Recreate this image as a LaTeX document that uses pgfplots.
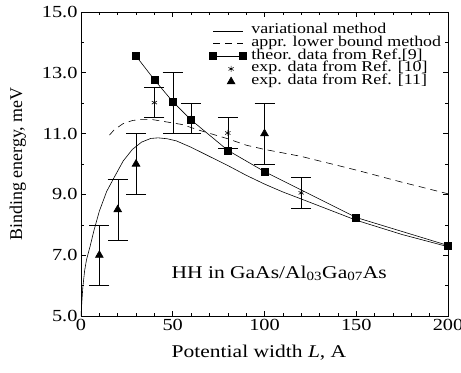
\documentclass[border=0pt]{standalone}
\usepackage{fontspec}
\setmainfont{Liberation Serif}[FakeStretch=1.2]
\newfontfamily\ylabfont{Liberation Serif}
\usepackage{pgfplots}
\pgfplotsset{compat=1.18}
\pgfplotsset{
  lineleg/.style={legend image code/.code={\path (-4bp,0bp) (38bp,0bp);\draw[##1] (0bp,0bp) -- (30bp,0bp);}},
  twomarkleg/.style={legend image code/.code={\path (-4bp,0bp) (38bp,0bp);\draw[##1] plot coordinates {(0bp,0bp) (30bp,0bp)};}},
  markleg/.style={legend image code/.code={\path (-4bp,0bp) (38bp,0bp);\draw[##1] plot coordinates {(18bp,0bp)};}},
}

\pgfplotstableread{
L E
0 5.0
0.5 5.5
1 5.95
2 6.5
3 6.85
5 7.3
7 7.8
10 8.45
14 9.1
18 9.55
23 10.1
28 10.48
33 10.72
38 10.84
42 10.86
47 10.83
52 10.76
60 10.55
70 10.25
80 9.95
90 9.63
100 9.34
110 9.08
120 8.85
135 8.5
150 8.15
175 7.68
200 7.28
}\variational

\pgfplotstableread{
L E
15.5 10.95
18 11.12
23 11.33
28 11.43
33 11.47
38 11.47
45 11.4
55 11.3
65 11.1
80 10.83
90 10.62
100 10.48
120 10.25
150 9.8
175 9.4
200 9.02
}\lowerbound

\pgfplotstableread{
L E
30 13.55
40 12.77
50 12.05
60 11.45
80 10.45
100 9.75
150 8.24
200 7.32
}\theor

\pgfplotstableread{
L E err
40 12.02 0.5
50 12.0 1.0
60 11.5 0.5
80 11.02 0.5
120 9.05 0.5
}\expten

\pgfplotstableread{
L E err
10 7.0 1.0
20 8.5 1.0
30 10.0 1.0
100 11.0 1.0
}\expeleven

\begin{document}
\begin{tikzpicture}
\begin{axis}[
  scale only axis, width=367bp, height=304bp,
  xmin=0, xmax=200, ymin=5, ymax=15,
  xtick={0,50,...,200}, minor x tick num=4,
  ytick={5,7,...,15}, minor y tick num=1,
  tick align=inside, tick pos=both, ticklabel pos=left,
  major tick length=5bp, minor tick length=3bp,
  yticklabel style={/pgf/number format/.cd, fixed, fixed zerofill, precision=1},
  /pgf/number format/assume math mode=true,
  tick label style={font=\fontsize{17}{19}\selectfont, black},
  xlabel={Potential width \textit{L}, A},
  ylabel={\ylabfont Binding energy, meV},
  every axis x label/.style={at={(axis description cs:0.485,-0.12)}, anchor=center, font=\fontsize{18}{20}\selectfont},
  every axis y label/.style={at={(axis description cs:-0.172,0.5)}, anchor=center, rotate=90, font=\fontsize{18}{20}\selectfont},
  legend style={at={(rel axis cs:0.99,0.965)}, anchor=north east, draw=none, fill=none,
    font=\fontsize{15}{15}\selectfont,
    nodes={inner sep=0pt, text height=9bp, text depth=3bp}, row sep=0.7bp},
  legend cell align=left,
  every axis plot/.append style={line width=0.6pt},
  axis line style={line width=0.6pt},
  tick style={line width=0.6pt, black},
]
\coordinate (O) at (rel axis cs:0,0);
\addplot[black, no marks, lineleg] table[x=L,y=E] {\variational};
\addlegendentry{variational method}
\addplot[black, no marks, dash pattern=on 7pt off 5pt, lineleg] table[x=L,y=E] {\lowerbound};
\addlegendentry{appr. lower bound method}
\addplot[black, mark=square*, mark size=3.5bp, mark options={solid}, twomarkleg] table[x=L,y=E] {\theor};
\addlegendentry{theor. data from Ref.[9]}
\addplot[black, only marks, mark=asterisk, mark size=3bp, markleg,
  error bars/.cd, y dir=both, y explicit, error mark options={rotate=90, black, mark size=10bp, line width=0.6pt}] table[x=L,y=E,y error=err] {\expten};
\addlegendentry{exp. data from Ref. [10]}
\addplot[black, only marks, mark=triangle*, mark size=4.5bp, markleg,
  error bars/.cd, y dir=both, y explicit, error mark options={rotate=90, black, mark size=10bp, line width=0.6pt}] table[x=L,y=E,y error=err] {\expeleven};
\addlegendentry{exp. data from Ref. [11]}
\node[font=\fontsize{18}{20}\selectfont, anchor=center] at (axis cs:108,6.4) {HH in GaAs/Al\textsubscript{03}Ga\textsubscript{07}As};
\end{axis}
\pgfresetboundingbox
\path (O) ++(-81bp,-57bp) rectangle ++(461bp,373bp);
\end{tikzpicture}
\end{document}
